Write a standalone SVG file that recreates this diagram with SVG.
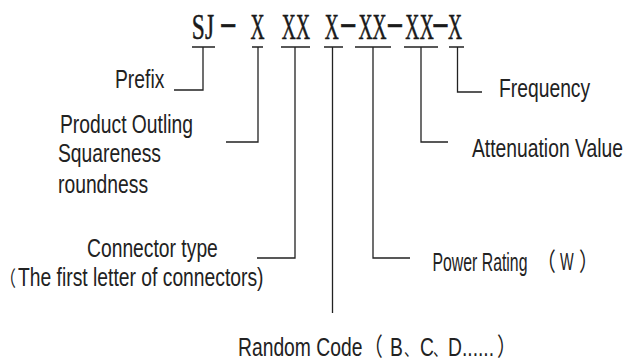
<svg xmlns="http://www.w3.org/2000/svg" width="626" height="363" viewBox="0 0 626 363">
<style>
.lbl{font-family:"Liberation Sans","Noto Sans CJK SC",sans-serif;font-size:19.3px;fill:#222}
.code{font-family:"Liberation Serif",serif;font-size:36px;fill:#1a1a1a;stroke:#1a1a1a;stroke-width:0.5;text-anchor:middle}
.ln{fill:none;stroke:#222;stroke-width:1.3}
</style>
<rect width="626" height="363" fill="#fff"/>
<g id="code">
<text class="code" transform="translate(0,39) scale(0.65,1)" x="305.1 322.3">SJ</text>
<text class="code" transform="translate(228.3,34) scale(1.45,1)">-</text>
<text class="code" transform="translate(0,39) scale(0.54,1)" x="476.9">X</text>
<text class="code" transform="translate(0,39) scale(0.54,1)" x="534.8 561.1">XX</text>
<text class="code" transform="translate(0,39) scale(0.54,1)" x="614.3">X</text>
<text class="code" transform="translate(348.3,34) scale(1.45,1)">-</text>
<text class="code" transform="translate(0,39) scale(0.54,1)" x="676.7 703.0">XX</text>
<text class="code" transform="translate(395,34) scale(1.45,1)">-</text>
<text class="code" transform="translate(0,39) scale(0.54,1)" x="763.5 790.2">XX</text>
<text class="code" transform="translate(440.5,34) scale(1.45,1)">-</text>
<text class="code" transform="translate(0,39) scale(0.54,1)" x="842.6">X</text>
</g>
<g id="connectors" class="ln">
<path d="M192,47H215M203,47V90H174"/>
<path d="M252,47H263M258,47V142H226"/>
<path d="M281,47H310M295,47V258H257"/>
<path d="M324,47H343M332.5,47V313"/>
<path d="M355,47H391M373,47V258H410"/>
<path d="M404,47H438M421,47V142H448"/>
<path d="M449,47H464M457.5,47V92H482"/>
</g>
<g id="prefix"><text class="lbl" transform="translate(115,88) scale(1,1.3)">Prefix</text></g>
<g id="outline">
<text class="lbl" transform="translate(60,132.5) scale(1,1.3)">Product Outling</text>
<text class="lbl" transform="translate(58,162) scale(1,1.3)">Squareness</text>
<text class="lbl" transform="translate(58,192.5) scale(1,1.3)">roundness</text>
</g>
<g id="connector-type">
<text class="lbl" transform="translate(87,256.7) scale(1,1.3)">Connector type</text>
<text class="lbl" transform="translate(0,286) scale(1,1.3)"><tspan x="0" font-size="16">（</tspan><tspan x="18">The first letter of connectors)</tspan></text>
</g>
<g id="random-code">
<text class="lbl" transform="translate(0,356) scale(1,1.3)"><tspan x="238">Random Code</tspan><tspan x="363.5">（</tspan><tspan x="390">B</tspan><tspan x="404" font-size="14">、</tspan><tspan x="420">C</tspan><tspan x="433" font-size="14">、</tspan><tspan x="448">D......</tspan><tspan x="497">）</tspan></text>
</g>
<g id="power">
<text class="lbl" transform="translate(432.5,271) scale(0.82,1.3)">Power Rating</text>
<text class="lbl" transform="translate(0,271) scale(1,1.3)"><tspan x="536.4">（</tspan><tspan x="579">）</tspan></text>
<text class="lbl" transform="translate(560,270) scale(0.75,1.23)" font-size="17">W</text>
</g>
<g id="attenuation"><text class="lbl" transform="translate(472,157) scale(1,1.3)">Attenuation Value</text></g>
<g id="frequency"><text class="lbl" transform="translate(499,97) scale(1,1.3)">Frequency</text></g>
</svg>
